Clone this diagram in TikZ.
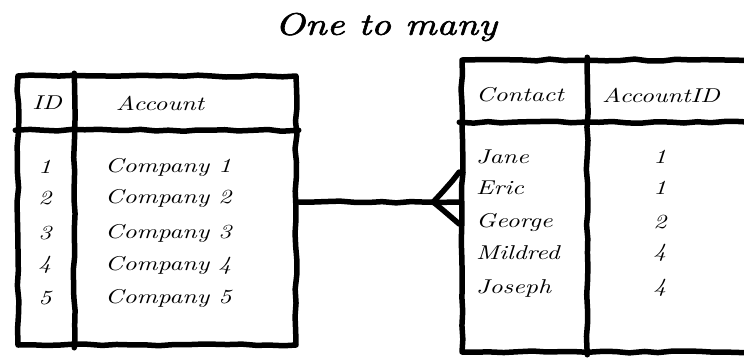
\documentclass[tikz,border=0pt]{standalone}
\usepackage{fontspec}
\newfontfamily\handfont{lmroman10-italic}[Extension=.otf, FakeStretch=1.28]
\newfontfamily\titlefont{lmroman10-italic}[Extension=.otf, FakeStretch=1.25, FakeBold=2]
\usetikzlibrary{decorations.pathmorphing,calc}
\begin{document}
\pgfmathsetseed{7}
\begin{tikzpicture}[x=1pt,y=-1pt,
  sketch/.style={line width=5.5pt, line cap=round, line join=round, decorate,
    decoration={random steps, segment length=14pt, amplitude=1pt}},
  tbl/.style={sketch, draw, rectangle, inner sep=0pt},
  hand/.style={font=\handfont\fontsize{20}{24}\selectfont, inner sep=0pt},
  ttl/.style={font=\titlefont\fontsize{31}{36}\selectfont, inner sep=0pt}]
\useasboundingbox (0,0) rectangle (744,360);
\clip (0,0) rectangle (744,360);

\node[ttl] (title) at (386,27) {One to many};

% Account table
\node[tbl, minimum width=278pt, minimum height=269pt] (acct) at (157,210.5) {};
\draw[sketch] ([xshift=59pt]acct.north west) -- ([xshift=59pt]acct.south west);
\draw[sketch] ([yshift=-57pt]acct.north west) -- ([yshift=-57pt]acct.north east);
\node[hand] (hid) at (47,103) {ID};
\node[hand] (hacc) at (160,103) {Account};
\foreach \y/\n in {167/1,198/2,233/3,265/4,298/5}{
  \node[hand] (id\n) at (45,\y) {\n};
  \node[hand, anchor=west] (co\n) at (105,\y) {Company \n};
}

% Contact table
\node[tbl, minimum width=298pt, minimum height=292pt] (cont) at (611,206) {};
\draw[sketch] ([xshift=128pt]cont.north west) -- ([xshift=128pt]cont.south west);
\draw[sketch] ([yshift=-65pt]cont.north west) -- ([yshift=-65pt]cont.north east);
\node[hand, anchor=west] (hcon) at (476,95) {Contact};
\node[hand] (haid) at (661,95) {AccountID};
\foreach \y/\nm/\v [count=\i] in {157/Jane/1,188/Eric/1,222/George/2,253/Mildred/4,288/Joseph/4}{
  \node[hand, anchor=west] (nm\i) at (476,\y) {\nm};
  \node[hand] (av\i) at (660,\y) {\v};
}

% connector with crow's foot
\coordinate (lvl) at (0,202);
\draw[sketch] (acct.east |- lvl) -- (cont.west |- lvl);
\coordinate (cf) at ([xshift=-26pt]cont.west |- lvl);
\draw[sketch] (cf) -- ([yshift=30pt]cont.west |- lvl);
\draw[sketch] (cf) -- ([yshift=-22pt]cont.west |- lvl);
\end{tikzpicture}
\end{document}
